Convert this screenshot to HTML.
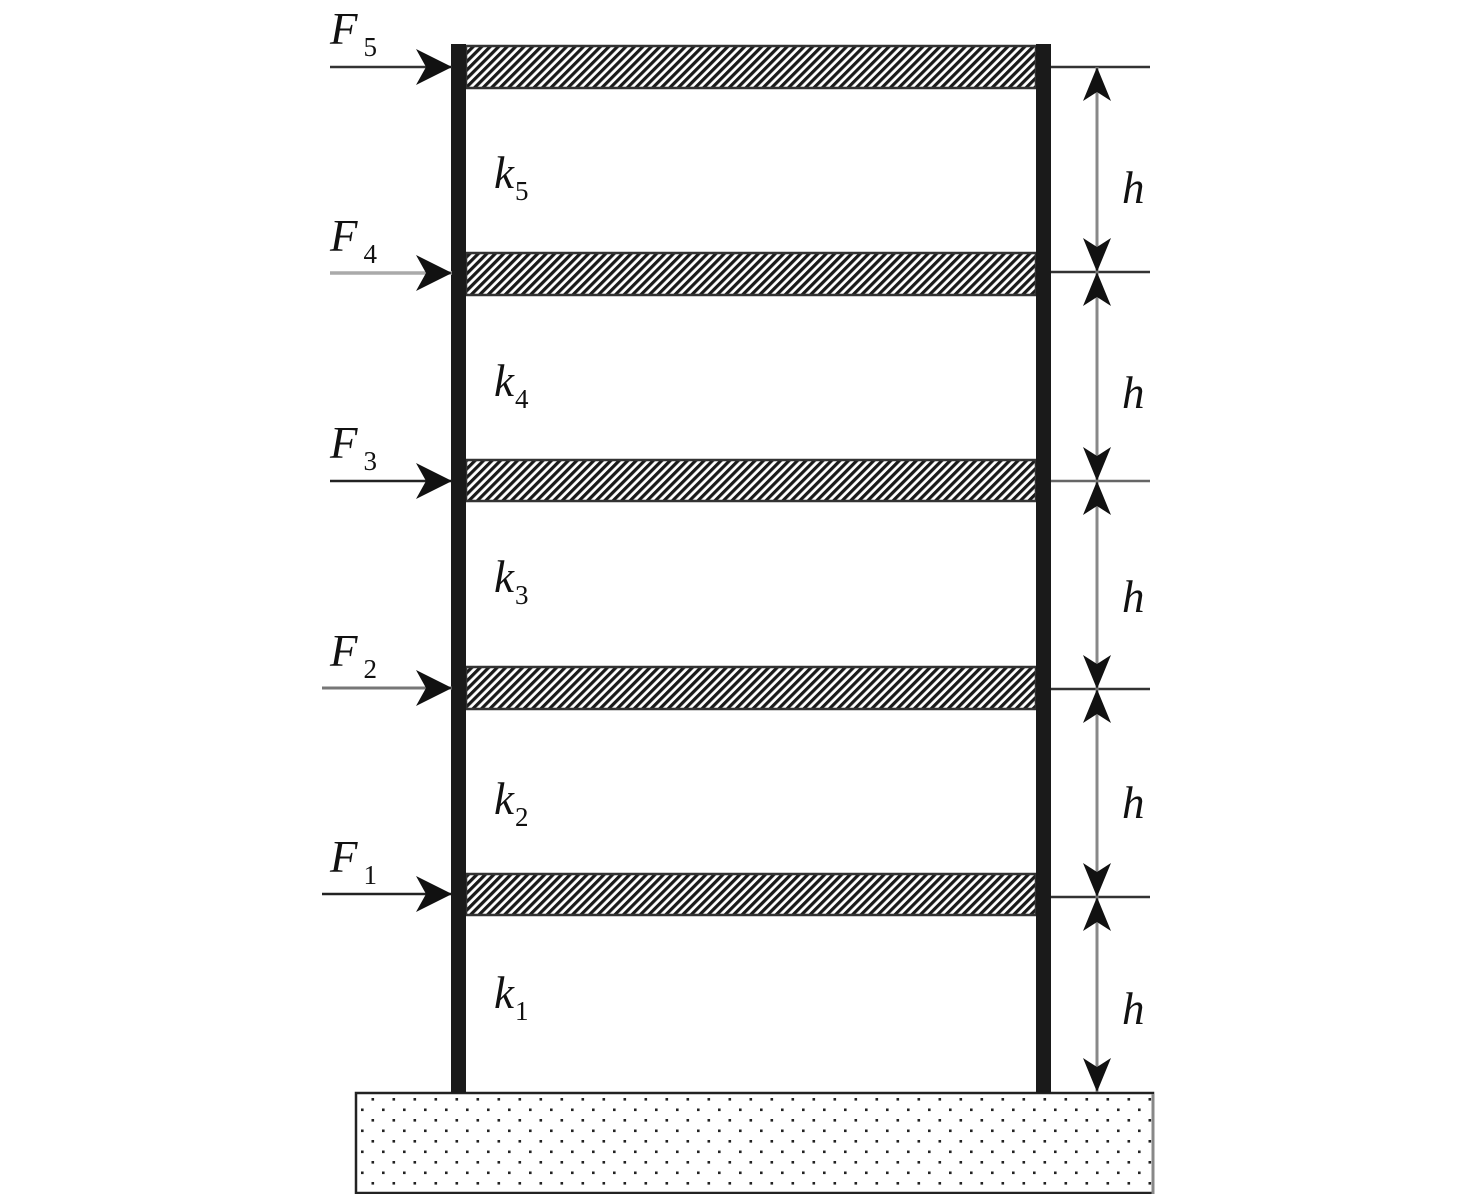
<!DOCTYPE html>
<html><head><meta charset="utf-8"><style>
html,body{margin:0;padding:0;background:#fff}
svg{display:block}
text{font-family:"Liberation Serif","DejaVu Serif",serif;font-style:italic;fill:#111}
.sub{font-style:normal;font-size:27px}
</style></head><body>
<svg width="1476" height="1194" viewBox="0 0 1476 1194" xmlns="http://www.w3.org/2000/svg">
<defs>
<pattern id="hatch" patternUnits="userSpaceOnUse" width="6" height="6" patternTransform="rotate(45)">
<rect width="6" height="6" fill="#fff"/>
<rect width="3.2" height="6" fill="#1a1a1a"/>
</pattern>
<pattern id="dots" patternUnits="userSpaceOnUse" x="355" y="1093" width="21" height="21">
<rect x="16.5" y="5" width="2.6" height="2.6" fill="#222"/>
<rect x="6" y="15.5" width="2.6" height="2.6" fill="#222"/>
</pattern>
<marker id="ah" viewBox="0 0 36 36" refX="36" refY="18" markerWidth="36" markerHeight="36" markerUnits="userSpaceOnUse" orient="auto">
<path d="M0,0 L36,18 L0,36 L10,18 Z" fill="#111"/>
</marker>
<marker id="dh" viewBox="0 0 34 28" refX="34" refY="14" markerWidth="34" markerHeight="28" markerUnits="userSpaceOnUse" orient="auto-start-reverse">
<path d="M0,0 L34,14 L0,28 L9,14 Z" fill="#111"/>
</marker>
</defs>

<rect x="356" y="1093" width="797" height="100" fill="url(#dots)" stroke="#222" stroke-width="2.5"/>
<line x1="1153" y1="1094" x2="1153" y2="1194" stroke="#888" stroke-width="3"/>

<g stroke="#333" stroke-width="2.5">
<rect x="466" y="46" width="570" height="42" fill="url(#hatch)"/>
<rect x="466" y="253" width="570" height="42" fill="url(#hatch)"/>
<rect x="466" y="460" width="570" height="41" fill="url(#hatch)"/>
<rect x="466" y="667" width="570" height="42" fill="url(#hatch)"/>
<rect x="466" y="874" width="570" height="41" fill="url(#hatch)"/>
</g>

<rect x="451" y="44" width="15" height="1049" fill="#1a1a1a"/>
<rect x="1036" y="44" width="15" height="1049" fill="#1a1a1a"/>

<g stroke="#333" stroke-width="2.5">
<line x1="1051" y1="67" x2="1150" y2="67"/>
<line x1="1051" y1="272" x2="1150" y2="272"/>
<line x1="1051" y1="481" x2="1150" y2="481" stroke="#666"/>
<line x1="1051" y1="689" x2="1150" y2="689"/>
<line x1="1051" y1="897" x2="1150" y2="897"/>
</g>

<g stroke="#888" stroke-width="3">
<line x1="1097" y1="67" x2="1097" y2="272" marker-start="url(#dh)" marker-end="url(#dh)"/>
<line x1="1097" y1="272" x2="1097" y2="481" marker-start="url(#dh)" marker-end="url(#dh)"/>
<line x1="1097" y1="481" x2="1097" y2="689" marker-start="url(#dh)" marker-end="url(#dh)"/>
<line x1="1097" y1="689" x2="1097" y2="897" marker-start="url(#dh)" marker-end="url(#dh)"/>
<line x1="1097" y1="897" x2="1097" y2="1092" marker-start="url(#dh)" marker-end="url(#dh)"/>
</g>

<g stroke-width="2.5">
<line x1="330" y1="67" x2="452" y2="67" stroke="#333" marker-end="url(#ah)"/>
<line x1="330" y1="273" x2="452" y2="273" stroke="#aaa" stroke-width="3.5" marker-end="url(#ah)"/>
<line x1="330" y1="481" x2="452" y2="481" stroke="#222" marker-end="url(#ah)"/>
<line x1="322" y1="688" x2="452" y2="688" stroke="#777" stroke-width="3" marker-end="url(#ah)"/>
<line x1="322" y1="894" x2="452" y2="894" stroke="#222" marker-end="url(#ah)"/>
</g>

<g font-size="45">
<text x="330" y="44">F<tspan class="sub" dx="6" dy="12">5</tspan></text>
<text x="330" y="251">F<tspan class="sub" dx="6" dy="12">4</tspan></text>
<text x="330" y="458">F<tspan class="sub" dx="6" dy="12">3</tspan></text>
<text x="330" y="666">F<tspan class="sub" dx="6" dy="12">2</tspan></text>
<text x="330" y="872">F<tspan class="sub" dx="6" dy="12">1</tspan></text>

<text x="494" y="188">k<tspan class="sub" dx="1" dy="12">5</tspan></text>
<text x="494" y="396">k<tspan class="sub" dx="1" dy="12">4</tspan></text>
<text x="494" y="592">k<tspan class="sub" dx="1" dy="12">3</tspan></text>
<text x="494" y="814">k<tspan class="sub" dx="1" dy="12">2</tspan></text>
<text x="494" y="1008">k<tspan class="sub" dx="1" dy="12">1</tspan></text>

<text x="1122" y="203">h</text>
<text x="1122" y="408">h</text>
<text x="1122" y="612">h</text>
<text x="1122" y="818">h</text>
<text x="1122" y="1024">h</text>
</g>
</svg>
</body></html>
